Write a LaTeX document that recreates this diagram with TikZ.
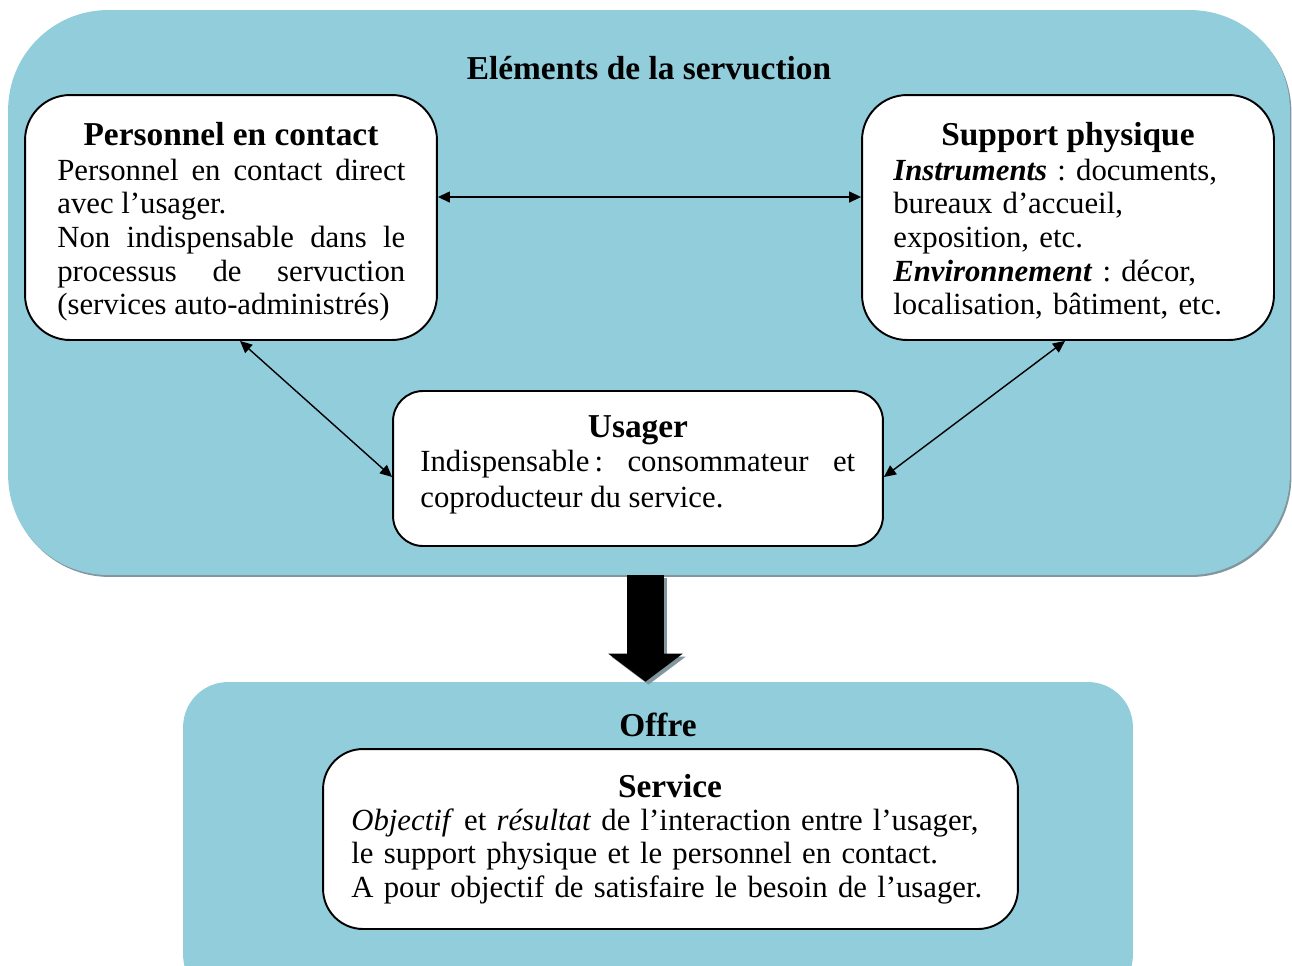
\documentclass[tikz,border=0pt]{standalone}
\usepackage{fontspec}
\setmainfont{Liberation Serif}
\usetikzlibrary{calc,arrows.meta}
\definecolor{serv_blue}{RGB}{146,205,220}
\definecolor{serv_shadow}{RGB}{130,150,160}
\tikzset{
  zone/.style       = {fill=serv_blue, draw=none, inner sep=0pt},
  zoneshadow/.style = {fill=serv_shadow, draw=none, inner sep=0pt},
  box/.style        = {fill=white, draw=black, line width=1.1pt, inner sep=0pt},
  titre/.style      = {font=\fontsize{19}{22}\selectfont\bfseries, inner sep=0pt, anchor=base},
  corps/.style      = {font=\fontsize{17.5}{19.2}\selectfont\frenchspacing, inner sep=0pt, anchor=base west},
  conn/.style       = {black, line width=0.8pt, {Triangle[length=2.4mm,width=2.2mm]}-{Triangle[length=2.4mm,width=2.2mm]}},
  bigarrow/.style   = {line width=0.74cm, -{Triangle[length=0.56cm,width=1.46cm]}}
}

\begin{document}
\begin{tikzpicture}[x=0.02cm, y=-0.02cm]
    % Page frame, one unit = one pixel of the reference
    \useasboundingbox (0,0) rectangle (1292,965);
    \clip (0,0) rectangle (1292,965);

    % ----- Zones -----
    \node[zoneshadow, minimum width=25.64cm, minimum height=11.3cm, rounded corners=2cm] (servombre) at (650.5,294.5) {};
    \node[zone, minimum width=25.64cm, minimum height=11.3cm, rounded corners=2cm] (servuction) at (649,292.5) {};
    \node[titre] (servtitre) at (649,79) {Eléments de la servuction};

    \node[zone, minimum width=19cm, minimum height=6.36cm, rounded corners=0.9cm] (offre) at (658,841) {};
    \node[titre] (offretitre) at (658,736) {Offre};

    % ----- Big arrow: servuction -> offre -----
    \draw[bigarrow, serv_shadow, transform canvas={xshift=0.06cm, yshift=-0.06cm}] (servuction.south -| 645.5,0) -- (offre.north -| 645.5,0);
    \draw[bigarrow, black] (servuction.south -| 645.5,0) -- (offre.north -| 645.5,0);

    % ----- Personnel en contact -----
    \node[box, minimum width=8.24cm, minimum height=4.9cm, rounded corners=0.9cm] (pers) at (231,217.5) {};
    \node[titre] (perstitre) at (231,145) {Personnel en contact};
    \node[corps, text width=6.96cm, align=justify] (perstexte) at (57,180)
      {Personnel en contact direct\linebreak avec l’usager.\\
       Non indispensable dans le\linebreak processus de servuction\linebreak (services auto-administrés)};

    % ----- Support physique -----
    \node[box, minimum width=8.24cm, minimum height=4.9cm, rounded corners=0.9cm] (supp) at (1068,217.5) {};
    \node[titre] (supptitre) at (1068,145) {Support physique};
    \node[corps, text width=7.2cm, align=left] (supptexte) at (893,180)
      {\textbf{\textit{Instruments}} : documents,\\ bureaux d’accueil,\\ exposition, etc.\\
       \textbf{\textit{Environnement}} : décor,\\ localisation, bâtiment, etc.};

    % ----- Usager -----
    \node[box, minimum width=9.8cm, minimum height=3.1cm, rounded corners=0.6cm] (usager) at (638,468.5) {};
    \node[titre] (usagertitre) at (638,437) {Usager};
    \node[corps, font=\fontsize{17.5}{20.5}\selectfont\frenchspacing, text width=8.7cm, align=justify] (usagertexte) at (420,471)
      {Indispensable\,: consommateur et\linebreak coproducteur du service.};

    % ----- Service -----
    \node[box, minimum width=13.9cm, minimum height=3.6cm, rounded corners=0.8cm] (service) at (670.5,839) {};
    \node[titre] (servicetitre) at (670,797) {Service};
    \node[corps, text width=13.5cm, align=left] (servicetexte) at (351,830)
      {\textit{Objectif} et \textit{résultat} de l’interaction entre l’usager,\\
       le support physique et le personnel en contact.\\
       A pour objectif de satisfaire le besoin de l’usager.};

    % Connections between the three elements
    \draw[conn] (pers.east |- 0,197) -- (supp.west |- 0,197);
    \draw[conn] (pers.south -| 240,0) -- (usager.west |- 0,477);
    \draw[conn] (supp.south -| 1065,0) -- (usager.east |- 0,477);
\end{tikzpicture}
\end{document}
